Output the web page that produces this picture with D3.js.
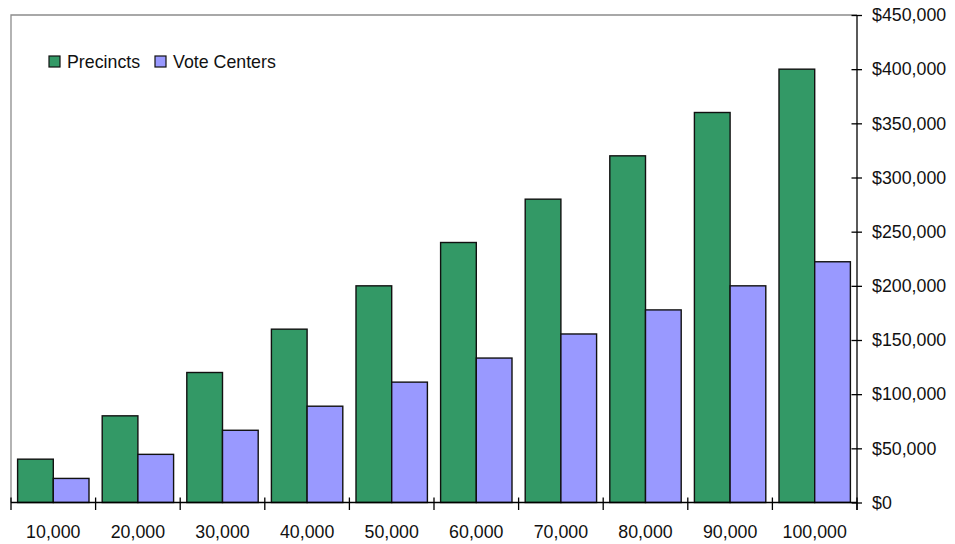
<!DOCTYPE html>
<html>
<head>
<meta charset="utf-8">
<script src="https://cdn.jsdelivr.net/npm/d3@7"></script>
<style>
  html, body { margin: 0; padding: 0; background: #fff; }
  svg { display: block; font-family: Arial, "Liberation Sans", sans-serif; }
</style>
</head>
<body>
<svg id="chart" width="955" height="544"></svg>
<script>
// Voters served per jurisdiction
const categories = ["10,000", "20,000", "30,000", "40,000", "50,000", "60,000", "70,000", "80,000", "90,000", "100,000"];
// Cost by election model
const precincts   = [40000, 80000, 120000, 160000, 200000, 240000, 280000, 320000, 360000, 400000];
const voteCenters = [22222, 44444, 66667, 88889, 111111, 133333, 155556, 177778, 200000, 222222];
const seriesNames = ["Precincts", "Vote Centers"];
const seriesColors = ["#339966", "#9999FF"];
const yTicks = [0, 50000, 100000, 150000, 200000, 250000, 300000, 350000, 400000, 450000];

const svg = d3.select("#chart");
const plotL = 11, plotR = 857, plotT = 15, plotB = 502.5;
const fontSize = 17.8;

const x = d3.scaleBand().domain(categories).range([plotL, plotR]).paddingInner(0).paddingOuter(0);
const inner = d3.scaleBand().domain(seriesNames).range([0, x.bandwidth()]).paddingInner(0).paddingOuter(0.185);
const y = d3.scaleLinear().domain([0, 450000]).range([plotB, plotT]);

// plot frame (top and left edges)
svg.append("path")
  .attr("d", `M${plotL},${plotB} V${plotT} H${plotR}`)
  .attr("fill", "none").attr("stroke", "#8c8c8c").attr("stroke-width", 1.3);

// bars
const rows = categories.map((c, i) => ({ cat: c, vals: [precincts[i], voteCenters[i]] }));
const groups = svg.append("g").selectAll("g").data(rows).join("g")
  .attr("transform", d => `translate(${x(d.cat)},0)`);
groups.selectAll("rect")
  .data(d => d.vals.map((v, k) => ({ name: seriesNames[k], v, k })))
  .join("rect")
  .attr("x", d => inner(d.name))
  .attr("width", inner.bandwidth())
  .attr("y", d => y(d.v))
  .attr("height", d => y(0) - y(d.v))
  .attr("fill", d => seriesColors[d.k])
  .attr("stroke", "#111").attr("stroke-width", 1.4);

// right value axis
const yAxis = d3.axisRight(y).tickValues(yTicks)
  .tickFormat(d => "$" + d3.format(",")(d))
  .tickSize(0).tickPadding(15);
const ya = svg.append("g").attr("transform", `translate(${plotR},0)`).call(yAxis);
ya.select(".domain").remove();
ya.selectAll("text").attr("font-size", fontSize).attr("fill", "#111")
  .attr("font-family", "Arial, 'Liberation Sans', sans-serif");
ya.selectAll(".tick").append("line")
  .attr("x1", -5.5).attr("x2", 5).attr("stroke", "#000").attr("stroke-width", 1.3);
svg.append("line").attr("x1", plotR).attr("x2", plotR).attr("y1", plotT).attr("y2", plotB + 7.5)
  .attr("stroke", "#000").attr("stroke-width", 1.3);

// category axis
const xAxis = d3.axisBottom(x).tickSize(0).tickPadding(0);
const xa = svg.append("g").attr("transform", `translate(0,${plotB})`).call(xAxis);
xa.select(".domain").remove();
xa.selectAll("text").attr("dy", 0).attr("y", 35.5)
  .attr("font-size", fontSize).attr("fill", "#111")
  .attr("font-family", "Arial, 'Liberation Sans', sans-serif");
svg.append("line").attr("x1", plotL).attr("x2", plotR).attr("y1", plotB).attr("y2", plotB)
  .attr("stroke", "#000").attr("stroke-width", 1.3);
const edges = categories.map(c => x(c)).concat([plotR]);
svg.append("g").selectAll("line").data(edges).join("line")
  .attr("x1", d => d).attr("x2", d => d)
  .attr("y1", plotB - 5).attr("y2", plotB + 7.5)
  .attr("stroke", "#000").attr("stroke-width", 1.3);

// legend
const legendX = [49, 155];
const lg = svg.append("g").selectAll("g").data(seriesNames).join("g")
  .attr("transform", (d, i) => `translate(${legendX[i]},56)`);
lg.append("rect").attr("width", 11).attr("height", 11)
  .attr("fill", (d, i) => seriesColors[i]).attr("stroke", "#111").attr("stroke-width", 1.2);
lg.append("text").attr("x", 18).attr("y", 12)
  .attr("font-size", fontSize).attr("fill", "#111").text(d => d);
</script>
</body>
</html>
